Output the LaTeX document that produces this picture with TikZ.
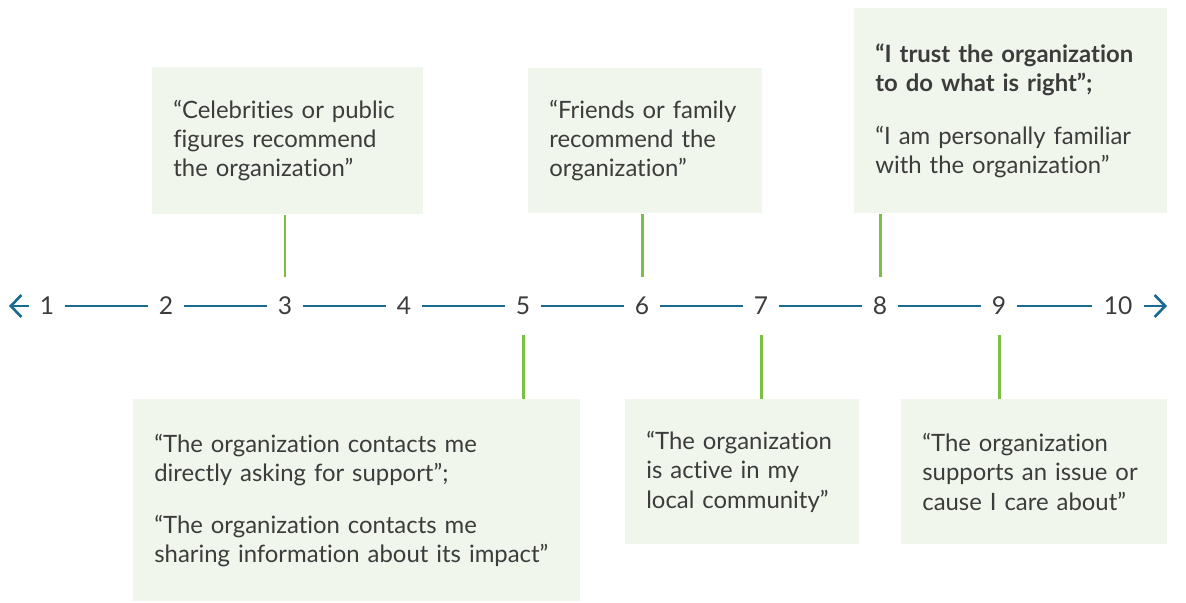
\documentclass[tikz,border=0pt]{standalone}
\usepackage{fontspec}
\setmainfont{Lato}[Ligatures=NoCommon]
\usetikzlibrary{arrows.meta}

\definecolor{axisblue}{HTML}{1B6A8F}
\definecolor{stemgreen}{HTML}{7AC143}
\definecolor{boxfill}{HTML}{F1F6EC}
\definecolor{numgray}{HTML}{3C3C3C}

\tikzset{
  num/.style={text=numgray, font=\fontsize{14pt}{16pt}\selectfont,
    inner xsep=0.22cm, inner ysep=0.4cm, text height=0.34cm, text depth=0pt},
  axis/.style={axisblue, line width=1.5pt},
  stem/.style={stemgreen, line width=1.7pt},
  quote/.style={fill=boxfill, anchor=north west, align=left, text=numgray,
    inner xsep=0.42cm, inner ysep=0pt,
    font=\fontsize{13.6pt}{16.6pt}\selectfont},
}

\begin{document}
\begin{tikzpicture}[x=0.02cm,y=-0.02cm] %---- scale of trust factors
\useasboundingbox (0,0) rectangle (1186,602);

% ---- the numbers on the scale
\foreach \i in {1,...,10}
  \node[num] (n\i) at ({47+119*(\i-1)},306) {\i};

% ---- axis pieces and end arrows
\foreach \i [count=\j from 2] in {1,...,9}
  \draw[axis] (n\i) -- (n\j);
\coordinate (lend) at (9,306);
\coordinate (rend) at (1167,306);
\draw[axis,-{Straight Barb[length=6pt,width=12.5pt]}] (n1.west) -- (lend);
\draw[axis,-{Straight Barb[length=6pt,width=12.5pt]}] (n10.east) -- (rend);

% ---- boxes above the scale
\node[quote,minimum width=5.42cm,minimum height=2.94cm,text width=4.58cm] (t3) at (152,67)
  {“Celebrities or public\\figures recommend\\the organization”};
\node[quote,minimum width=4.68cm,minimum height=2.90cm,text width=3.84cm] (t6) at (528,68)
  {“Friends or family\\recommend the\\organization”};
\node[quote,minimum width=6.26cm,minimum height=4.10cm,text width=5.42cm] (t8) at (854,8)
  {\textbf{“I trust the organization}\\\textbf{to do what is right”;}\\[0.46cm]
   “I am personally familiar\\with the organization”};

% ---- boxes below the scale
\node[quote,minimum width=8.94cm,minimum height=4.04cm,text width=8.10cm] (b5) at (133,399)
  {“The organization contacts me\\directly asking for support”;\\[0.46cm]
   “The organization contacts me\\sharing information about its impact”};
\node[quote,minimum width=4.68cm,minimum height=2.90cm,text width=3.84cm] (b7) at (625,399)
  {“The organization\\is active in my\\local community”};
\node[quote,minimum width=5.32cm,minimum height=2.90cm,text width=4.48cm] (b9) at (901,399)
  {“The organization\\supports an issue or\\cause I care about”};

% ---- stems from boxes to the numbers
\foreach \k/\b in {3/t3,6/t6,8/t8}
  \draw[stem] (\b.south -| n\k) -- (n\k.north);
\foreach \k/\b in {5/b5,7/b7,9/b9}
  \draw[stem] (n\k.south) -- (n\k.south |- \b.north);
\end{tikzpicture}
\end{document}
